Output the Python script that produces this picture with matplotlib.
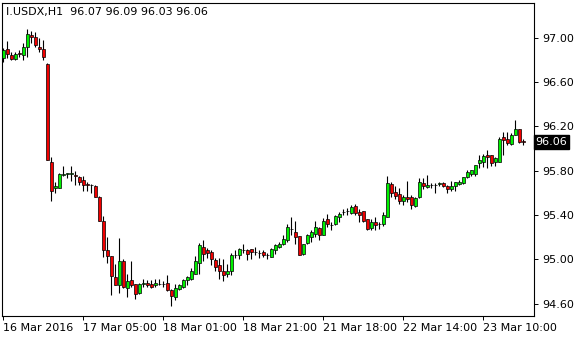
# I.USDX H1 candles, MT4 look

import numpy as np
import matplotlib
matplotlib.use('Agg')
import matplotlib.pyplot as plt
import matplotlib.transforms as mtrans

symbol = 'I.USDX,H1'
opens = [96.82, 96.90, 96.84, 96.81, 96.86, 96.84, 96.92, 97.02, 97.01, 96.92,
         96.90, 96.76, 95.88, 95.64, 95.64, 95.76, 95.77, 95.77, 95.76, 95.74,
         95.72, 95.68, 95.67, 95.66, 95.56, 95.35, 95.08, 95.03, 94.84, 94.77,
         94.98, 94.74, 94.81, 94.78, 94.70, 94.78, 94.79, 94.78, 94.77, 94.78,
         94.78, 94.79, 94.72, 94.66, 94.73, 94.75, 94.81, 94.82, 94.87, 94.97,
         95.11, 95.08, 95.07, 94.99, 94.95, 94.89, 94.87, 94.89, 95.04, 95.04,
         95.08, 95.08, 95.09, 95.07, 95.06, 95.07, 95.04, 95.02, 95.08, 95.11,
         95.14, 95.17, 95.27, 95.25, 95.21, 95.05, 95.15, 95.20, 95.23, 95.28,
         95.22, 95.36, 95.31, 95.32, 95.38, 95.43, 95.44, 95.42, 95.48, 95.43,
         95.44, 95.36, 95.28, 95.34, 95.32, 95.32, 95.38, 95.68, 95.61, 95.59,
         95.53, 95.56, 95.56, 95.48, 95.56, 95.69, 95.65, 95.67, 95.67, 95.68,
         95.69, 95.66, 95.63, 95.66, 95.68, 95.69, 95.74, 95.77, 95.77, 95.87,
         95.88, 95.94, 95.94, 95.88, 95.88, 96.10, 96.09, 96.04, 96.12, 96.18,
         96.07]
highs = [96.91, 96.97, 96.87, 96.87, 96.89, 96.95, 97.08, 97.06, 97.05, 97.00,
         96.98, 96.77, 95.92, 95.70, 95.78, 95.84, 95.78, 95.84, 95.80, 95.75,
         95.75, 95.70, 95.68, 95.67, 95.57, 95.39, 95.20, 95.03, 94.96, 95.19,
         95.00, 94.87, 94.98, 94.78, 94.79, 94.82, 94.81, 94.81, 94.82, 94.82,
         94.80, 94.86, 94.73, 94.78, 94.78, 94.82, 94.85, 94.92, 95.03, 95.15,
         95.17, 95.10, 95.08, 95.01, 95.01, 95.00, 94.96, 95.06, 95.08, 95.10,
         95.14, 95.09, 95.09, 95.11, 95.08, 95.08, 95.06, 95.10, 95.14, 95.16,
         95.22, 95.32, 95.38, 95.35, 95.21, 95.14, 95.23, 95.26, 95.35, 95.29,
         95.37, 95.41, 95.34, 95.40, 95.43, 95.45, 95.46, 95.49, 95.50, 95.45,
         95.44, 95.36, 95.36, 95.38, 95.34, 95.43, 95.75, 95.70, 95.66, 95.64,
         95.58, 95.71, 95.58, 95.56, 95.73, 95.73, 95.76, 95.69, 95.69, 95.70,
         95.70, 95.67, 95.71, 95.70, 95.72, 95.74, 95.81, 95.81, 95.85, 95.94,
         95.95, 95.99, 95.94, 95.92, 96.10, 96.15, 96.15, 96.14, 96.26, 96.18,
         96.09]
lows = [96.78, 96.82, 96.80, 96.80, 96.83, 96.80, 96.83, 96.95, 96.92, 96.87,
        96.80, 95.90, 95.53, 95.60, 95.64, 95.75, 95.73, 95.71, 95.67, 95.67,
        95.62, 95.62, 95.60, 95.56, 95.35, 95.02, 94.97, 94.68, 94.77, 94.70,
        94.74, 94.66, 94.75, 94.64, 94.69, 94.75, 94.75, 94.74, 94.75, 94.77,
        94.75, 94.71, 94.58, 94.63, 94.72, 94.74, 94.77, 94.81, 94.87, 94.87,
        94.98, 95.01, 94.95, 94.89, 94.82, 94.80, 94.84, 94.86, 95.01, 95.00,
        95.06, 94.99, 95.00, 95.04, 95.01, 95.02, 95.00, 95.02, 95.05, 95.10,
        95.13, 95.16, 95.22, 95.14, 95.04, 95.04, 95.14, 95.16, 95.20, 95.17,
        95.22, 95.29, 95.26, 95.31, 95.34, 95.40, 95.40, 95.41, 95.40, 95.34,
        95.34, 95.26, 95.26, 95.26, 95.27, 95.30, 95.38, 95.56, 95.54, 95.50,
        95.49, 95.52, 95.45, 95.47, 95.55, 95.63, 95.64, 95.64, 95.60, 95.66,
        95.65, 95.60, 95.62, 95.62, 95.67, 95.68, 95.73, 95.75, 95.75, 95.82,
        95.83, 95.82, 95.84, 95.84, 95.88, 95.94, 96.03, 96.03, 96.12, 96.05,
        96.03]
closes = [96.89, 96.85, 96.81, 96.85, 96.85, 96.92, 97.03, 97.01, 96.93, 96.90,
          96.83, 95.90, 95.62, 95.66, 95.77, 95.77, 95.78, 95.78, 95.75, 95.70,
          95.67, 95.67, 95.67, 95.56, 95.35, 95.08, 95.03, 94.85, 94.77, 94.98,
          94.75, 94.80, 94.77, 94.69, 94.78, 94.79, 94.77, 94.75, 94.79, 94.78,
          94.78, 94.72, 94.67, 94.74, 94.77, 94.81, 94.84, 94.89, 94.98, 95.13,
          95.05, 95.06, 95.00, 94.93, 94.89, 94.86, 94.89, 95.04, 95.04, 95.09,
          95.08, 95.05, 95.07, 95.07, 95.06, 95.04, 95.04, 95.09, 95.13, 95.14,
          95.18, 95.29, 95.27, 95.20, 95.04, 95.14, 95.22, 95.25, 95.29, 95.22,
          95.35, 95.32, 95.31, 95.39, 95.41, 95.43, 95.44, 95.47, 95.42, 95.40,
          95.35, 95.27, 95.34, 95.31, 95.32, 95.40, 95.69, 95.60, 95.57, 95.53,
          95.56, 95.54, 95.49, 95.55, 95.70, 95.66, 95.67, 95.67, 95.67, 95.69,
          95.66, 95.63, 95.66, 95.70, 95.70, 95.74, 95.79, 95.81, 95.85, 95.90,
          95.93, 95.92, 95.87, 95.91, 96.09, 96.08, 96.05, 96.12, 96.18, 96.06,
          96.06]

time_labels = ['16 Mar 2016', '17 Mar 05:00', '18 Mar 01:00', '18 Mar 21:00',
               '21 Mar 18:00', '22 Mar 14:00', '23 Mar 10:00']
time_ticks = [0, 20, 40, 60, 80, 100, 120]
price_ticks = [94.60, 95.00, 95.40, 95.80, 96.20, 96.60, 97.00]

o = np.array(opens); h = np.array(highs); l = np.array(lows); c = np.array(closes)
x = np.arange(len(o))

plt.rcParams['font.family'] = ['DejaVu Sans']
fig = plt.figure(figsize=(5.8, 3.4), dpi=100)
ax = fig.add_axes([2/580, 24/340, 532/580, 313.3/340])

bull = '#00f000'
bear = '#f00000'
cols = [bull if cc > oo else (bear if cc < oo else 'black') for oo, cc in zip(o, c)]

ax.vlines(x, l, h, color='black', linewidth=0.8, zorder=2)
ax.bar(x, c - o, bottom=o, width=0.8, color=cols, edgecolor='black',
       linewidth=0.5, zorder=3)

ax.set_xlim(-0.325, 132.675)
ax.set_ylim(94.488, 97.316)

ax.yaxis.tick_right()
ax.set_yticks(price_ticks)
ax.set_yticklabels(['%.2f' % p for p in price_ticks])
ax.set_xticks(time_ticks)
ax.set_xticklabels(time_labels, ha='left')
ax.tick_params(axis='y', length=3, width=0.7, pad=3, labelsize=8, colors='black')
ax.tick_params(axis='x', length=3, width=0.7, pad=2, labelsize=8, colors='black')
for s in ax.spines.values():
    s.set_linewidth(0.8)
    s.set_color('black')

ax.text(0.008, 0.985, symbol + '  96.07 96.09 96.03 96.06', transform=ax.transAxes,
        fontsize=8, va='top', ha='left', color='black')

trans = mtrans.blended_transform_factory(ax.transAxes, ax.transData)
ax.text(1.003, c[-1], '%.2f' % c[-1], transform=trans, fontsize=8, color='white',
        va='center', ha='left', clip_on=False,
        bbox=dict(boxstyle='square,pad=0.15', facecolor='black', edgecolor='black'))

plt.savefig('out.png', dpi=100)
